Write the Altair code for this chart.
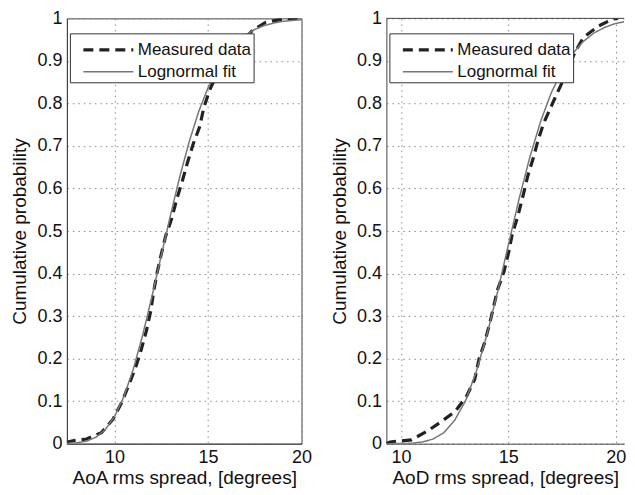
import altair as alt
import pandas as pd

series_names = ["Measured data", "Lognormal fit"]

# ---- Left panel: AoA ----
aoa_meas_x = [7.45, 7.49, 7.76, 8.5, 9.3, 9.91, 10.36, 10.8, 11.16, 11.43, 11.7, 11.93,
              12.1, 12.28, 12.5, 12.73, 13.04, 13.34, 13.63, 13.9, 14.2, 14.56, 14.77,
              15.1, 15.6, 16.3, 17.15, 17.33, 18.05, 18.25, 19.1, 19.8, 20.0]
aoa_meas_p = [0.0, 0.004, 0.007, 0.011, 0.026, 0.057, 0.095, 0.142, 0.184, 0.222, 0.265, 0.311,
              0.36, 0.403, 0.446, 0.488, 0.527, 0.577, 0.619, 0.661, 0.704, 0.746, 0.79,
              0.833, 0.88, 0.925, 0.961, 0.97, 0.99, 0.992, 0.999, 1.0, 1.0]
aoa_fit_x = [7.45, 8.0, 8.5, 9.0, 9.5, 10.0, 10.5, 11.0, 11.5, 12.0, 12.5, 13.0, 13.5,
             14.0, 14.5, 15.0, 15.5, 16.0, 16.5, 17.0, 17.5, 18.0, 18.5, 19.0, 19.5, 20.0]
aoa_fit_p = [0.001, 0.002, 0.006, 0.015, 0.033, 0.064, 0.111, 0.175, 0.255, 0.346, 0.443,
             0.539, 0.63, 0.711, 0.781, 0.837, 0.882, 0.917, 0.942, 0.961, 0.974, 0.983,
             0.989, 0.993, 0.995, 0.997]

# ---- Right panel: AoD ----
aod_meas_x = [9.32, 9.5, 10.49, 11.24, 11.85, 12.53, 13.06, 13.44, 13.64, 13.9, 14.12, 14.32,
              14.5, 14.8, 15.03, 15.18, 15.44, 15.71, 15.91, 16.17, 16.4, 16.65, 17.23,
              17.7, 18.1, 18.5, 19.2, 19.85, 20.1]
aod_meas_p = [0.0, 0.004, 0.009, 0.03, 0.051, 0.076, 0.112, 0.152, 0.2, 0.238, 0.28, 0.323,
              0.362, 0.405, 0.453, 0.492, 0.534, 0.588, 0.63, 0.673, 0.716, 0.754, 0.819,
              0.87, 0.92, 0.955, 0.982, 0.998, 1.0]
aod_fit_x = [9.32, 10.0, 10.5, 11.0, 11.5, 12.0, 12.5, 13.0, 13.5, 14.0, 14.5, 15.0, 15.5,
             16.0, 16.5, 17.0, 17.5, 18.0, 18.5, 19.0, 19.5, 20.0, 20.4]
aod_fit_p = [0.0, 0.0003, 0.001, 0.004, 0.011, 0.026, 0.055, 0.1, 0.168, 0.255, 0.357,
             0.467, 0.575, 0.673, 0.757, 0.825, 0.877, 0.917, 0.946, 0.966, 0.979, 0.988, 0.992]

y_ticks = [0, 0.1, 0.2, 0.3, 0.4, 0.5, 0.6, 0.7, 0.8, 0.9, 1.0]
x_ticks = [10, 15, 20]
frame_top = [1.0]

FONT = "Liberation Sans"
PANEL_H = 426


def make_df(mx, mp, fx, fp):
    rows = []
    for i, (x, p) in enumerate(zip(mx, mp)):
        rows.append({"v": x, "p": p, "series": series_names[0], "o": i})
    for i, (x, p) in enumerate(zip(fx, fp)):
        rows.append({"v": x, "p": p, "series": series_names[1], "o": i})
    return pd.DataFrame(rows)


def legend():
    return alt.Legend(
        title=None, orient="none", legendX=3, legendY=15,
        fillColor="white", strokeColor="#333333", padding=2,
        symbolType="M-2,0H2", symbolSize=625, symbolOffset=22,
        labelOffset=15, labelFontSize=17, labelFont=FONT, labelColor="#111111",
        rowPadding=0, cornerRadius=0,
    )


def lines(df, xdom, xtitle):
    return alt.Chart(df).mark_line(clip=True).encode(
        x=alt.X("v:Q", scale=alt.Scale(domain=xdom, nice=False, zero=False),
                axis=alt.Axis(values=x_ticks, title=xtitle)),
        y=alt.Y("p:Q", scale=alt.Scale(domain=[0, 1], nice=False),
                axis=alt.Axis(values=y_ticks, format=".1~f", title="Cumulative probability")),
        color=alt.Color("series:N", scale=alt.Scale(domain=series_names, range=["#222222", "#777777"]),
                        legend=legend()),
        strokeDash=alt.StrokeDash("series:N", scale=alt.Scale(domain=series_names, range=[[10, 6], [1, 0]]),
                                  legend=legend()),
        strokeWidth=alt.StrokeWidth("series:N", scale=alt.Scale(domain=series_names, range=[3.2, 1.5]),
                                    legend=legend()),
        order="o:Q",
    )


left = lines(make_df(aoa_meas_x, aoa_meas_p, aoa_fit_x, aoa_fit_p), [7.45, 20.0],
             "AoA rms spread, [degrees]").properties(width=235, height=PANEL_H)

top_rule = alt.Chart(pd.DataFrame({"p": frame_top})).mark_rule(
    color="#444444", strokeWidth=1
).encode(y="p:Q")

right = alt.layer(
    lines(make_df(aod_meas_x, aod_meas_p, aod_fit_x, aod_fit_p), [9.32, 20.39],
          "AoD rms spread, [degrees]"),
    top_rule,
).properties(width=238, height=PANEL_H, view=alt.ViewBackground(stroke="transparent"))

chart = alt.hconcat(left, right, spacing=85, bounds="flush").resolve_scale(
    x="independent", y="independent", color="independent",
    strokeDash="independent", strokeWidth="independent",
).resolve_legend(
    color="independent", strokeDash="independent", strokeWidth="independent",
).properties(
    padding={"left": 2, "top": 0, "right": 0, "bottom": 0},
    background="white",
).configure_view(
    stroke="#444444", strokeWidth=1,
).configure_axis(
    labelFont=FONT, labelFontSize=18, labelColor="#111111",
    titleFont=FONT, titleFontSize=19, titleFontWeight="normal", titleColor="#111111",
    grid=True, gridColor="#8c8c8c", gridDash=[1.5, 4], gridWidth=1,
    domainColor="#444444", ticks=False, tickSize=0, labelFlush=False,
).configure_axisY(
    labelPadding=5, titlePadding=7,
).configure_axisX(
    labelPadding=5, titlePadding=2,
)

chart.save("out.html", embed_options={"renderer": "svg", "actions": False})
